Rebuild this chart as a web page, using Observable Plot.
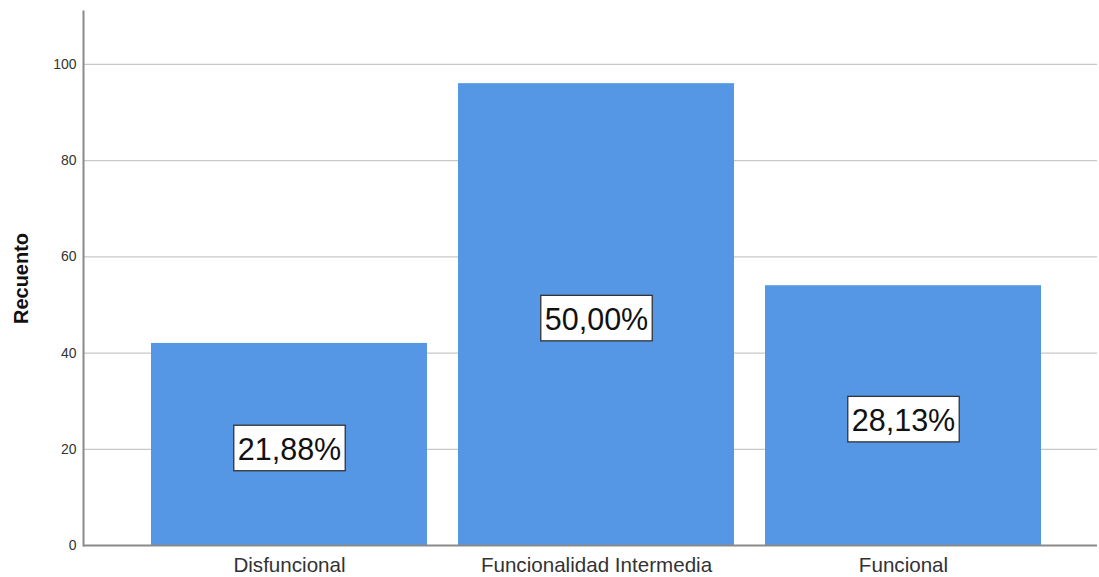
<!DOCTYPE html>
<html>
<head>
<meta charset="utf-8">
<script src="https://cdn.jsdelivr.net/npm/d3@7"></script>
<script src="https://cdn.jsdelivr.net/npm/@observablehq/plot@0.6"></script>
<style>
  html, body { margin: 0; padding: 0; background: #fff; }
  #chart svg { display: block; }
</style>
</head>
<body>
<div id="chart"></div>
<script>
// Recuento por categoría de funcionalidad
const categorias = ["Disfuncional", "Funcionalidad Intermedia", "Funcional"];
const recuentos = [42, 96, 54];
const porcentajes = ["21,88%", "50,00%", "28,13%"];
const yTicks = [0, 20, 40, 60, 80, 100];

const datos = categorias.map((c, i) => ({categoria: c, n: recuentos[i], pct: porcentajes[i]}));

const font = "'Liberation Sans', Arial, sans-serif";

const chart = Plot.plot({
  width: 1099,
  height: 577,
  marginLeft: 83,
  marginRight: 2,
  marginTop: 11,
  marginBottom: 32,
  style: {fontFamily: font, color: "#222", background: "#fff"},
  x: {domain: categorias, range: [134.6, 1058.4], paddingInner: 0.1, paddingOuter: 0.05},
  y: {domain: [0, 111], ticks: yTicks},
  marks: [
    Plot.gridY(yTicks, {stroke: "#c8c8c8", strokeOpacity: 1, strokeWidth: 1.2}),
    Plot.barY(datos, {x: "categoria", y: "n", fill: "#5596e5"}),
    Plot.axisY(yTicks, {tickSize: 0, tickPadding: 7, fontSize: 14, label: null, fill: "#333"}),
    Plot.axisY({ticks: [], label: "Recuento", labelAnchor: "center", labelArrow: "none", labelOffset: 70, fontSize: 20, fontWeight: "bold", fill: "#111"}),
    Plot.axisX({tickSize: 0, tickPadding: 12, fontSize: 20.6, label: null, fill: "#333"}),
    Plot.frame({anchor: "left", stroke: "#8a8a8a", strokeWidth: 2}),
    Plot.ruleY([0], {stroke: "#8a8a8a", strokeWidth: 2}),
    Plot.text(datos, {
      x: "categoria",
      y: d => d.n / 2,
      text: "pct",
      fontSize: 30.5,
      fill: "#111",
      dy: 6,
      className: "pct"
    })
  ]
});

document.getElementById("chart").appendChild(chart);

// White boxes with dark border behind the percentage labels
d3.select(chart).selectAll("g.pct text").each(function () {
  const b = this.getBBox();
  const t = this.getAttribute("transform");
  const padX = 4, padTop = 7, padBottom = 4.5;
  d3.select(this.parentNode)
    .insert("rect", () => this)
    .attr("transform", t)
    .attr("x", b.x - padX)
    .attr("y", b.y - padTop)
    .attr("width", b.width + 2 * padX)
    .attr("height", b.height + padTop + padBottom)
    .attr("fill", "#fff")
    .attr("stroke", "#333")
    .attr("stroke-width", 1.3);
});
</script>
</body>
</html>
